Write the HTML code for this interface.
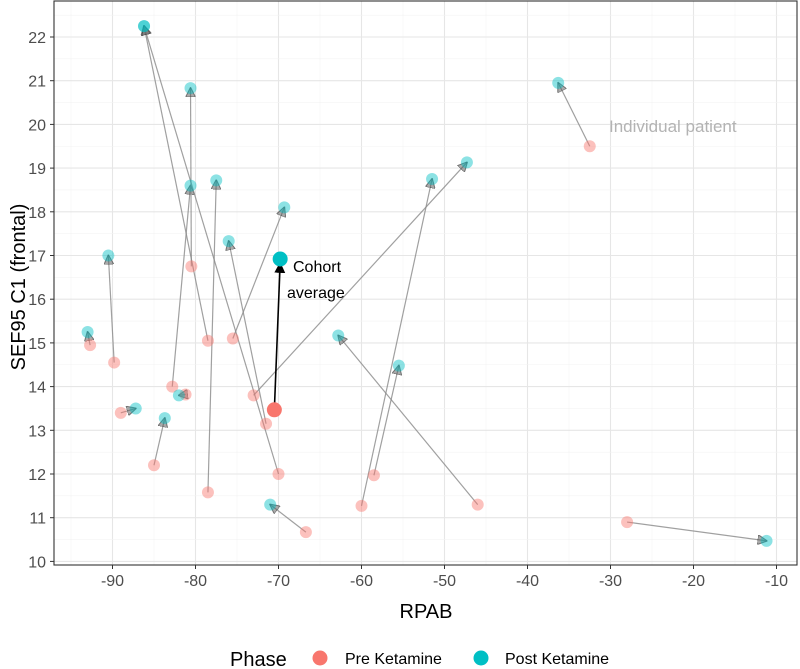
<!DOCTYPE html>
<html><head><meta charset="utf-8"><style>
body{margin:0;background:#fff;}
svg{display:block;font-family:"Liberation Sans",sans-serif;}
</style></head><body>
<svg id="chart" width="800" height="669">
<defs>
<marker id="ah" viewBox="0 0 10 10" refX="9" refY="5" markerWidth="10" markerHeight="10" markerUnits="userSpaceOnUse" orient="auto"><path d="M0,0 L10,5 L0,10 z" fill="#555" fill-opacity="0.5" stroke="#333" stroke-opacity="0.6" stroke-width="1"/></marker>
<marker id="ahb" viewBox="0 0 10 10" refX="9" refY="5" markerWidth="11" markerHeight="11" markerUnits="userSpaceOnUse" orient="auto"><path d="M0,0 L10,5 L0,10 z" fill="#000"/></marker>
</defs>
</svg>
<script>
const preX=[-92.7,-89.8,-89,-85,-82.8,-80.5,-78.5,-70,-78.5,-75.5,-71.5,-73,-66.7,-60,-58.5,-46,-32.5,-28,-81.2];
const preY=[14.95,14.55,13.4,12.2,14.0,16.75,15.05,12.0,11.58,15.1,13.15,13.8,10.67,11.27,11.97,11.3,19.5,10.9,13.82];
const postX=[-93,-90.5,-87.2,-83.7,-80.6,-80.6,-86.2,-86.2,-77.5,-69.3,-76,-47.3,-71,-51.5,-55.5,-62.8,-36.3,-11.2,-82];
const postY=[15.25,17.0,13.5,13.28,18.6,20.83,22.25,22.25,18.72,18.1,17.33,19.13,11.3,18.75,14.48,15.17,20.95,10.47,13.8];
const avgPre=[-70.5,13.47];
const avgPost=[-69.8,16.92];
const xTicks=[-90,-80,-70,-60,-50,-40,-30,-20,-10];
const yTicks=[10,11,12,13,14,15,16,17,18,19,20,21,22];

const svg=document.getElementById('chart');
const NS='http://www.w3.org/2000/svg';
const L=54,R=797,T=1,B=565;
const xs=v=>112.5+(v+90)*8.3;
const ys=v=>37+(22-v)*43.7;
function mk(tag,attrs,parent){const e=document.createElementNS(NS,tag);for(const k in attrs)e.setAttribute(k,attrs[k]);(parent||svg).appendChild(e);return e;}

const grid=mk('g',{});


for(let i=0;i<xTicks.length;i++){
  const v=xTicks[i];
  mk('line',{x1:xs(v),x2:xs(v),y1:T,y2:B,stroke:'#e6e6e6','stroke-width':1.1},grid);
  const m=v+5; if(xs(m)<R) mk('line',{x1:xs(m),x2:xs(m),y1:T,y2:B,stroke:'#f3f3f3','stroke-width':0.6},grid);
  if(i===0) mk('line',{x1:xs(v-5),x2:xs(v-5),y1:T,y2:B,stroke:'#f3f3f3','stroke-width':0.6},grid);
}
for(let i=0;i<yTicks.length;i++){
  const v=yTicks[i];
  mk('line',{x1:L,x2:R,y1:ys(v),y2:ys(v),stroke:'#e6e6e6','stroke-width':1.1},grid);
  if(ys(v+0.5)>T) mk('line',{x1:L,x2:R,y1:ys(v+0.5),y2:ys(v+0.5),stroke:'#f3f3f3','stroke-width':0.6},grid);
}
for(const v of xTicks){
  mk('line',{x1:xs(v),x2:xs(v),y1:B,y2:B+4,stroke:'#333'});
  const t=mk('text',{x:xs(v),y:B+21,'text-anchor':'middle','font-size':16,fill:'#4d4d4d'});t.textContent=v;
  
  
}
for(const v of yTicks){
  mk('line',{x1:L-4,x2:L,y1:ys(v),y2:ys(v),stroke:'#333'});
  const t=mk('text',{x:L-8,y:ys(v)+6,'text-anchor':'end','font-size':16,fill:'#4d4d4d'});t.textContent=v;
  
  
}
for(let i=0;i<preX.length;i++){
  const x1=xs(preX[i]),y1=ys(preY[i]),x2=xs(postX[i]),y2=ys(postY[i]);
  const ln=mk('line',{x1:x1,y1:y1,x2:x2,y2:y2,stroke:'#888','stroke-opacity':0.8,'stroke-width':1.2,'marker-end':'url(#ah)'});
  
  
}
for(let i=0;i<preX.length;i++){
  const c=mk('circle',{cx:xs(preX[i]),cy:ys(preY[i]),r:6,fill:'#F8766D','fill-opacity':0.45});
  
  
}
for(let i=0;i<postX.length;i++){
  const c=mk('circle',{cx:xs(postX[i]),cy:ys(postY[i]),r:6,fill:'#00BFC4','fill-opacity':0.45});
  
  
}
const ca=mk('line',{x1:xs(avgPre[0]),y1:ys(avgPre[1]),x2:xs(avgPost[0]),y2:ys(avgPost[1])+4,stroke:'#000','stroke-width':1.6,'marker-end':'url(#ahb)'});


const cp=mk('circle',{cx:xs(avgPre[0]),cy:ys(avgPre[1]),r:7.5,fill:'#F8766D'});


const cq=mk('circle',{cx:xs(avgPost[0]),cy:ys(avgPost[1]),r:7.5,fill:'#00BFC4'});


mk('rect',{x:L,y:T,width:R-L,height:B-T,fill:'none',stroke:'#333','stroke-width':1.1});
</script>
<svg style="position:absolute;left:0;top:0" width="800" height="669">
<text x="293" y="272" font-size="16" fill="#000" font-family="Liberation Sans,sans-serif">Cohort</text>
<text x="287" y="298" font-size="16" fill="#000" font-family="Liberation Sans,sans-serif">average</text>
<text x="609" y="132" font-size="17" fill="#b3b3b3" font-family="Liberation Sans,sans-serif">Individual patient</text>
<text x="426" y="618" font-size="20" text-anchor="middle" fill="#000" font-family="Liberation Sans,sans-serif">RPAB</text>
<text transform="translate(25,287) rotate(-90)" font-size="20" text-anchor="middle" fill="#000" font-family="Liberation Sans,sans-serif">SEF95 C1 (frontal)</text>
<g>
<text x="230" y="666" font-size="20" fill="#000" font-family="Liberation Sans,sans-serif">Phase</text>
<circle cx="320" cy="658" r="7.5" fill="#F8766D"/>
<text x="345" y="664" font-size="16" fill="#000" font-family="Liberation Sans,sans-serif">Pre Ketamine</text>
<circle cx="481" cy="658" r="7.5" fill="#00BFC4"/>
<text x="505" y="664" font-size="16" fill="#000" font-family="Liberation Sans,sans-serif">Post Ketamine</text>
</g>
</svg>
</body></html>
